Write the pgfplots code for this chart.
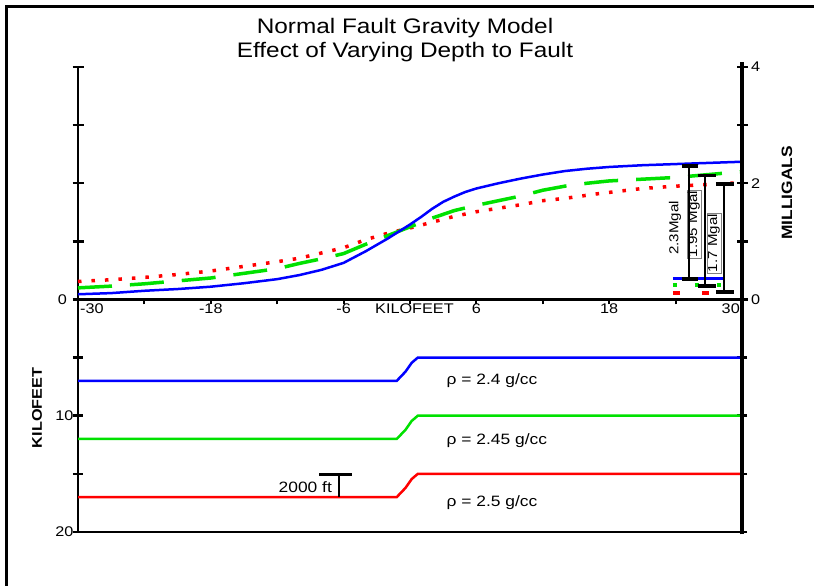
\documentclass[border=0pt]{standalone}
\usepackage{fontspec}
\setmainfont{Liberation Sans}[FakeStretch=1.16]
\usepackage{pgfplots}
\pgfplotsset{compat=1.18}
\definecolor{cblue}{RGB}{0,0,255}
\definecolor{cgreen}{RGB}{0,225,0}
\definecolor{cred}{RGB}{255,0,0}
\newcommand{\tickfont}{\fontsize{14}{16}\selectfont}
\begin{document}
\begin{tikzpicture}
\useasboundingbox (0pt,0pt) rectangle (814pt,586pt);
\fill[white] (0pt,0pt) rectangle (814pt,586pt);
\draw[line width=3pt] (6pt,0pt) -- (6pt,579pt) -- (814pt,579pt);
\node[align=center, font=\fontsize{21}{24}\selectfont] at (405pt,546pt) {Normal Fault Gravity Model\\Effect of Varying Depth to Fault};

% ---------------- top: gravity ----------------
\begin{axis}[
  at={(78pt,286.5pt)}, anchor=south west, scale only axis,
  width=664pt, height=232.5pt, clip=false,
  xmin=-30, xmax=30, ymin=0, ymax=4,
  axis x line*=bottom, axis y line*=box,
  axis line style={line width=2.5pt},
  xtick=\empty,
  extra x ticks={-30,-24,-18,-12,-6,0,6,12,18,24,30},
  extra x tick labels={,,-18,,-6,,6,,18,,},
  extra tick style={major tick length=5pt, tick align=outside, tick style={line width=2pt, black}},
  xticklabel style={yshift=4pt},
  ytick={0,1,2,3,4}, yticklabels={0,,2,,4}, yticklabel pos=right,
  tick align=center, major tick length=11pt,
  tick style={line width=2.5pt, black},
  ticklabel style={font=\tickfont},
  /pgf/number format/assume math mode=true,
]
\addplot[cred, line width=3.5pt, dash pattern=on 3.5pt off 10pt] coordinates {
(-30,0.31) (-27,0.34) (-24,0.38) (-21,0.43) (-18,0.49) (-15,0.57) (-12,0.65) (-10,0.71)
(-8,0.80) (-6,0.89) (-4,1.03) (-2,1.14) (0,1.23) (2,1.33) (4,1.43) (6,1.51) (8,1.57)
(10,1.63) (12,1.70) (14,1.74) (17,1.82) (21,1.91) (24,1.95) (27,1.98) (30,2.01)};
\addplot[cgreen, line width=3.5pt, dash pattern=on 34pt off 18pt] coordinates {
(-30,0.20) (-27,0.23) (-24,0.27) (-21,0.32) (-18,0.37) (-15,0.45) (-12,0.53) (-10,0.62)
(-8,0.70) (-6,0.79) (-4,0.95) (-2,1.10) (0,1.25) (2,1.40) (4,1.53) (6,1.62) (8,1.70)
(10,1.78) (12,1.88) (14,1.95) (16,2.00) (18,2.04) (21,2.07) (24,2.10) (27,2.15) (30,2.20)};
\addplot[cblue, line width=2.5pt] coordinates {
(-30,0.09) (-27,0.11) (-24,0.15) (-21,0.18) (-18,0.22) (-15,0.28) (-12,0.35) (-10,0.42)
(-8,0.51) (-6,0.63) (-4,0.83) (-3,0.94) (-2,1.05) (-1,1.17) (0,1.29) (1,1.42) (2,1.56)
(3,1.68) (4,1.77) (5,1.85) (6,1.91) (8,2.00) (10,2.08) (12,2.15) (14,2.21) (16,2.25)
(18,2.28) (21,2.31) (24,2.33) (27,2.35) (30,2.37)};
% base reference segments
\addplot[cblue, line width=2.5pt] coordinates {(23.76,0.36) (28.28,0.36)};
\addplot[cgreen, line width=3.5pt, dash pattern=on 4pt off 18pt] coordinates {(23.76,0.25) (28.7,0.25)};
\addplot[cred, line width=3.5pt, dash pattern=on 7pt off 22pt] coordinates {(23.76,0.11) (27.5,0.11)};
% labels
\node[rotate=90, font=\fontsize{13}{15}\selectfont] at (axis cs:23.94,1.23) {2.3Mgal};
\node[rotate=90, fill=white, draw=gray, line width=0.4pt, inner sep=1pt, font=\fontsize{13}{15}\selectfont] at (axis cs:25.65,1.30) {1.95 Mgal};
\node[rotate=90, fill=white, draw=gray, line width=0.4pt, inner sep=1pt, font=\fontsize{13}{15}\selectfont] at (axis cs:27.45,0.97) {1.7 Mgal};
% brackets
\draw[line width=1.6pt] (axis cs:25.21,0.35) -- (axis cs:25.21,2.30);
\draw[line width=3.5pt] (axis cs:24.58,2.30) -- (axis cs:26.02,2.30);
\draw[line width=3.5pt] (axis cs:24.58,0.35) -- (axis cs:26.02,0.35);
\draw[line width=1.6pt] (axis cs:26.66,0.23) -- (axis cs:26.66,2.13);
\draw[line width=3.5pt] (axis cs:26.02,2.13) -- (axis cs:27.65,2.13);
\draw[line width=3.5pt] (axis cs:26.02,0.23) -- (axis cs:27.65,0.23);
\draw[line width=1.6pt] (axis cs:28.37,0.13) -- (axis cs:28.37,1.99);
\draw[line width=3.5pt] (axis cs:27.65,1.99) -- (axis cs:29.28,1.99);
\draw[line width=3.5pt] (axis cs:27.65,0.13) -- (axis cs:29.28,0.13);
% axis text
\node[anchor=north west, font=\tickfont, inner sep=1pt] at (axis cs:-30,0) [xshift=1pt, yshift=-3pt] {-30};
\node[anchor=north east, font=\tickfont, inner sep=1pt] at (axis cs:30,0) [xshift=-1pt, yshift=-3pt] {30};
\node[anchor=north, font=\tickfont, inner sep=1pt] at (axis cs:0.4,0) [yshift=-3pt] {KILOFEET};
\node[anchor=east, font=\tickfont, inner sep=1pt] at (axis cs:-30,0) [xshift=-10pt] {0};
\draw[line width=4.5pt] (rel axis cs:1,0) -- (rel axis cs:1,1.02);
\end{axis}

% ---------------- bottom: depth model ----------------
\begin{axis}[
  at={(78pt,54pt)}, anchor=south west, scale only axis,
  width=664pt, height=232.5pt, clip=false,
  xmin=-30, xmax=30, ymin=-20, ymax=0,
  axis x line*=bottom, axis y line*=box,
  axis line style={line width=2.5pt},
  xtick=\empty,
  ytick={-20,-15,-10,-5}, yticklabels={20,,10,}, yticklabel pos=left,
  tick align=center, major tick length=10pt,
  tick style={line width=2.5pt, black},
  ticklabel style={font=\tickfont},
  yticklabel style={xshift=4pt},
  /pgf/number format/assume math mode=true,
]
\addplot[cblue, line width=2.5pt] coordinates {(-30,-7) (-1.2,-7) (-0.4,-6.2) (0.15,-5.45) (0.7,-5) (30,-5)};
\addplot[cgreen, line width=2.5pt] coordinates {(-30,-12) (-1.2,-12) (-0.4,-11.2) (0.15,-10.45) (0.7,-10) (30,-10)};
\addplot[cred, line width=2.5pt] coordinates {(-30,-17) (-1.2,-17) (-0.4,-16.2) (0.15,-15.45) (0.7,-15) (30,-15)};
\draw[line width=3.5pt] (axis cs:-8.22,-15.05) -- (axis cs:-5.24,-15.05);
\draw[line width=1.5pt] (axis cs:-6.42,-15.05) -- (axis cs:-6.42,-17);
\node[anchor=east, font=\fontsize{15}{17}\selectfont, inner sep=1pt] at (axis cs:-6.95,-16.1) {2000 ft};
\node[anchor=west, font=\fontsize{15}{17}\selectfont, inner sep=0pt] at (axis cs:3.3,-7.0) {ρ = 2.4 g/cc};
\node[anchor=west, font=\fontsize{15}{17}\selectfont, inner sep=0pt] at (axis cs:3.3,-12.1) {ρ = 2.45 g/cc};
\node[anchor=west, font=\fontsize{15}{17}\selectfont, inner sep=0pt] at (axis cs:3.3,-17.5) {ρ = 2.5 g/cc};
\draw[line width=4.5pt] (rel axis cs:1,-0.01) -- (rel axis cs:1,1);
\end{axis}

\node[rotate=90, font=\bfseries\fontsize{15}{17}\selectfont] at (787pt,393pt) {MILLIGALS};
\node[rotate=90, font=\bfseries\fontsize{14}{16}\selectfont] at (37pt,178pt) {KILOFEET};
\end{tikzpicture}
\end{document}
